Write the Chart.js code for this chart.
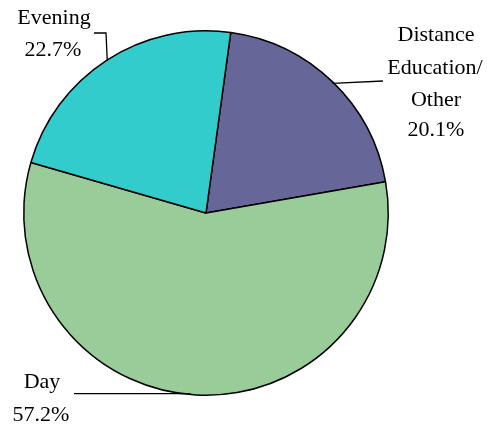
<!DOCTYPE html>
<html>
<head>
<meta charset="utf-8">
<script src="https://cdn.jsdelivr.net/npm/chart.js@4"></script>
<style>
    html, body { margin: 0; padding: 0; background: #fff; }
    #wrap { width: 487px; height: 426px; }
</style>
</head>
<body>
<div id="wrap"><canvas id="myChart" width="487" height="426"></canvas></div>
<script>
// Data
const categories = ['Distance Education/Other', 'Day', 'Evening']
const shares = [20.1, 57.2, 22.7]
const labelLines = [['Distance', 'Education/', 'Other'], ['Day'], ['Evening']]
const colors = ['#666699', '#99CC99', '#33CCCC']

// label placement: anchor angle on rim (deg from top, clockwise), leader elbow points, text lines
const labelSpots = [
    { angle: 44.3, path: [[383, 81]], text: [[436, 35], [435, 68], [436, 100], [436, 130]] },
    { angle: 185, path: [[74, null]], text: [[42, 382], [41, 415]] },
    { angle: -33, path: [[106, 33], [94, 33]], text: [[54, 18], [53, 50]] }
]

const pieLabels = {
    id: 'pieLabels',
    afterDraw(chart) {
        const ctx = chart.ctx
        const meta = chart.getDatasetMeta(0)
        ctx.save()
        ctx.strokeStyle = '#000'
        ctx.lineWidth = 1.3
        ctx.fillStyle = '#000'
        ctx.font = '22px "Liberation Serif", "Times New Roman", serif'
        ctx.textAlign = 'center'
        ctx.textBaseline = 'middle'
        meta.data.forEach((arc, i) => {
            const spot = labelSpots[i]
            const a = spot.angle * Math.PI / 180
            const r = arc.outerRadius - 1
            const ax = arc.x + r * Math.sin(a)
            const ay = arc.y - r * Math.cos(a)
            ctx.beginPath()
            ctx.moveTo(ax, ay)
            for (const p of spot.path) ctx.lineTo(p[0], p[1] === null ? ay : p[1])
            ctx.stroke()
            const lines = labelLines[i].concat([shares[i].toFixed(1) + '%'])
            lines.forEach((t, j) => ctx.fillText(t, spot.text[j][0], spot.text[j][1]))
        })
        ctx.restore()
    }
}

const ctx = document.getElementById('myChart').getContext('2d')
const myChart = new Chart(ctx, {
    type: 'pie',
    data: {
        labels: categories,
        datasets: [{
            data: shares,
            backgroundColor: colors,
            borderColor: '#000',
            borderWidth: 1.5,
            hoverOffset: 0
        }]
    },
    options: {
        responsive: false,
        animation: false,
        rotation: 7.8,
        layout: { padding: { left: 23, right: 98, top: 30, bottom: 30 } },
        plugins: {
            legend: { display: false },
            tooltip: { enabled: false }
        }
    },
    plugins: [pieLabels]
})
</script>
</body>
</html>
